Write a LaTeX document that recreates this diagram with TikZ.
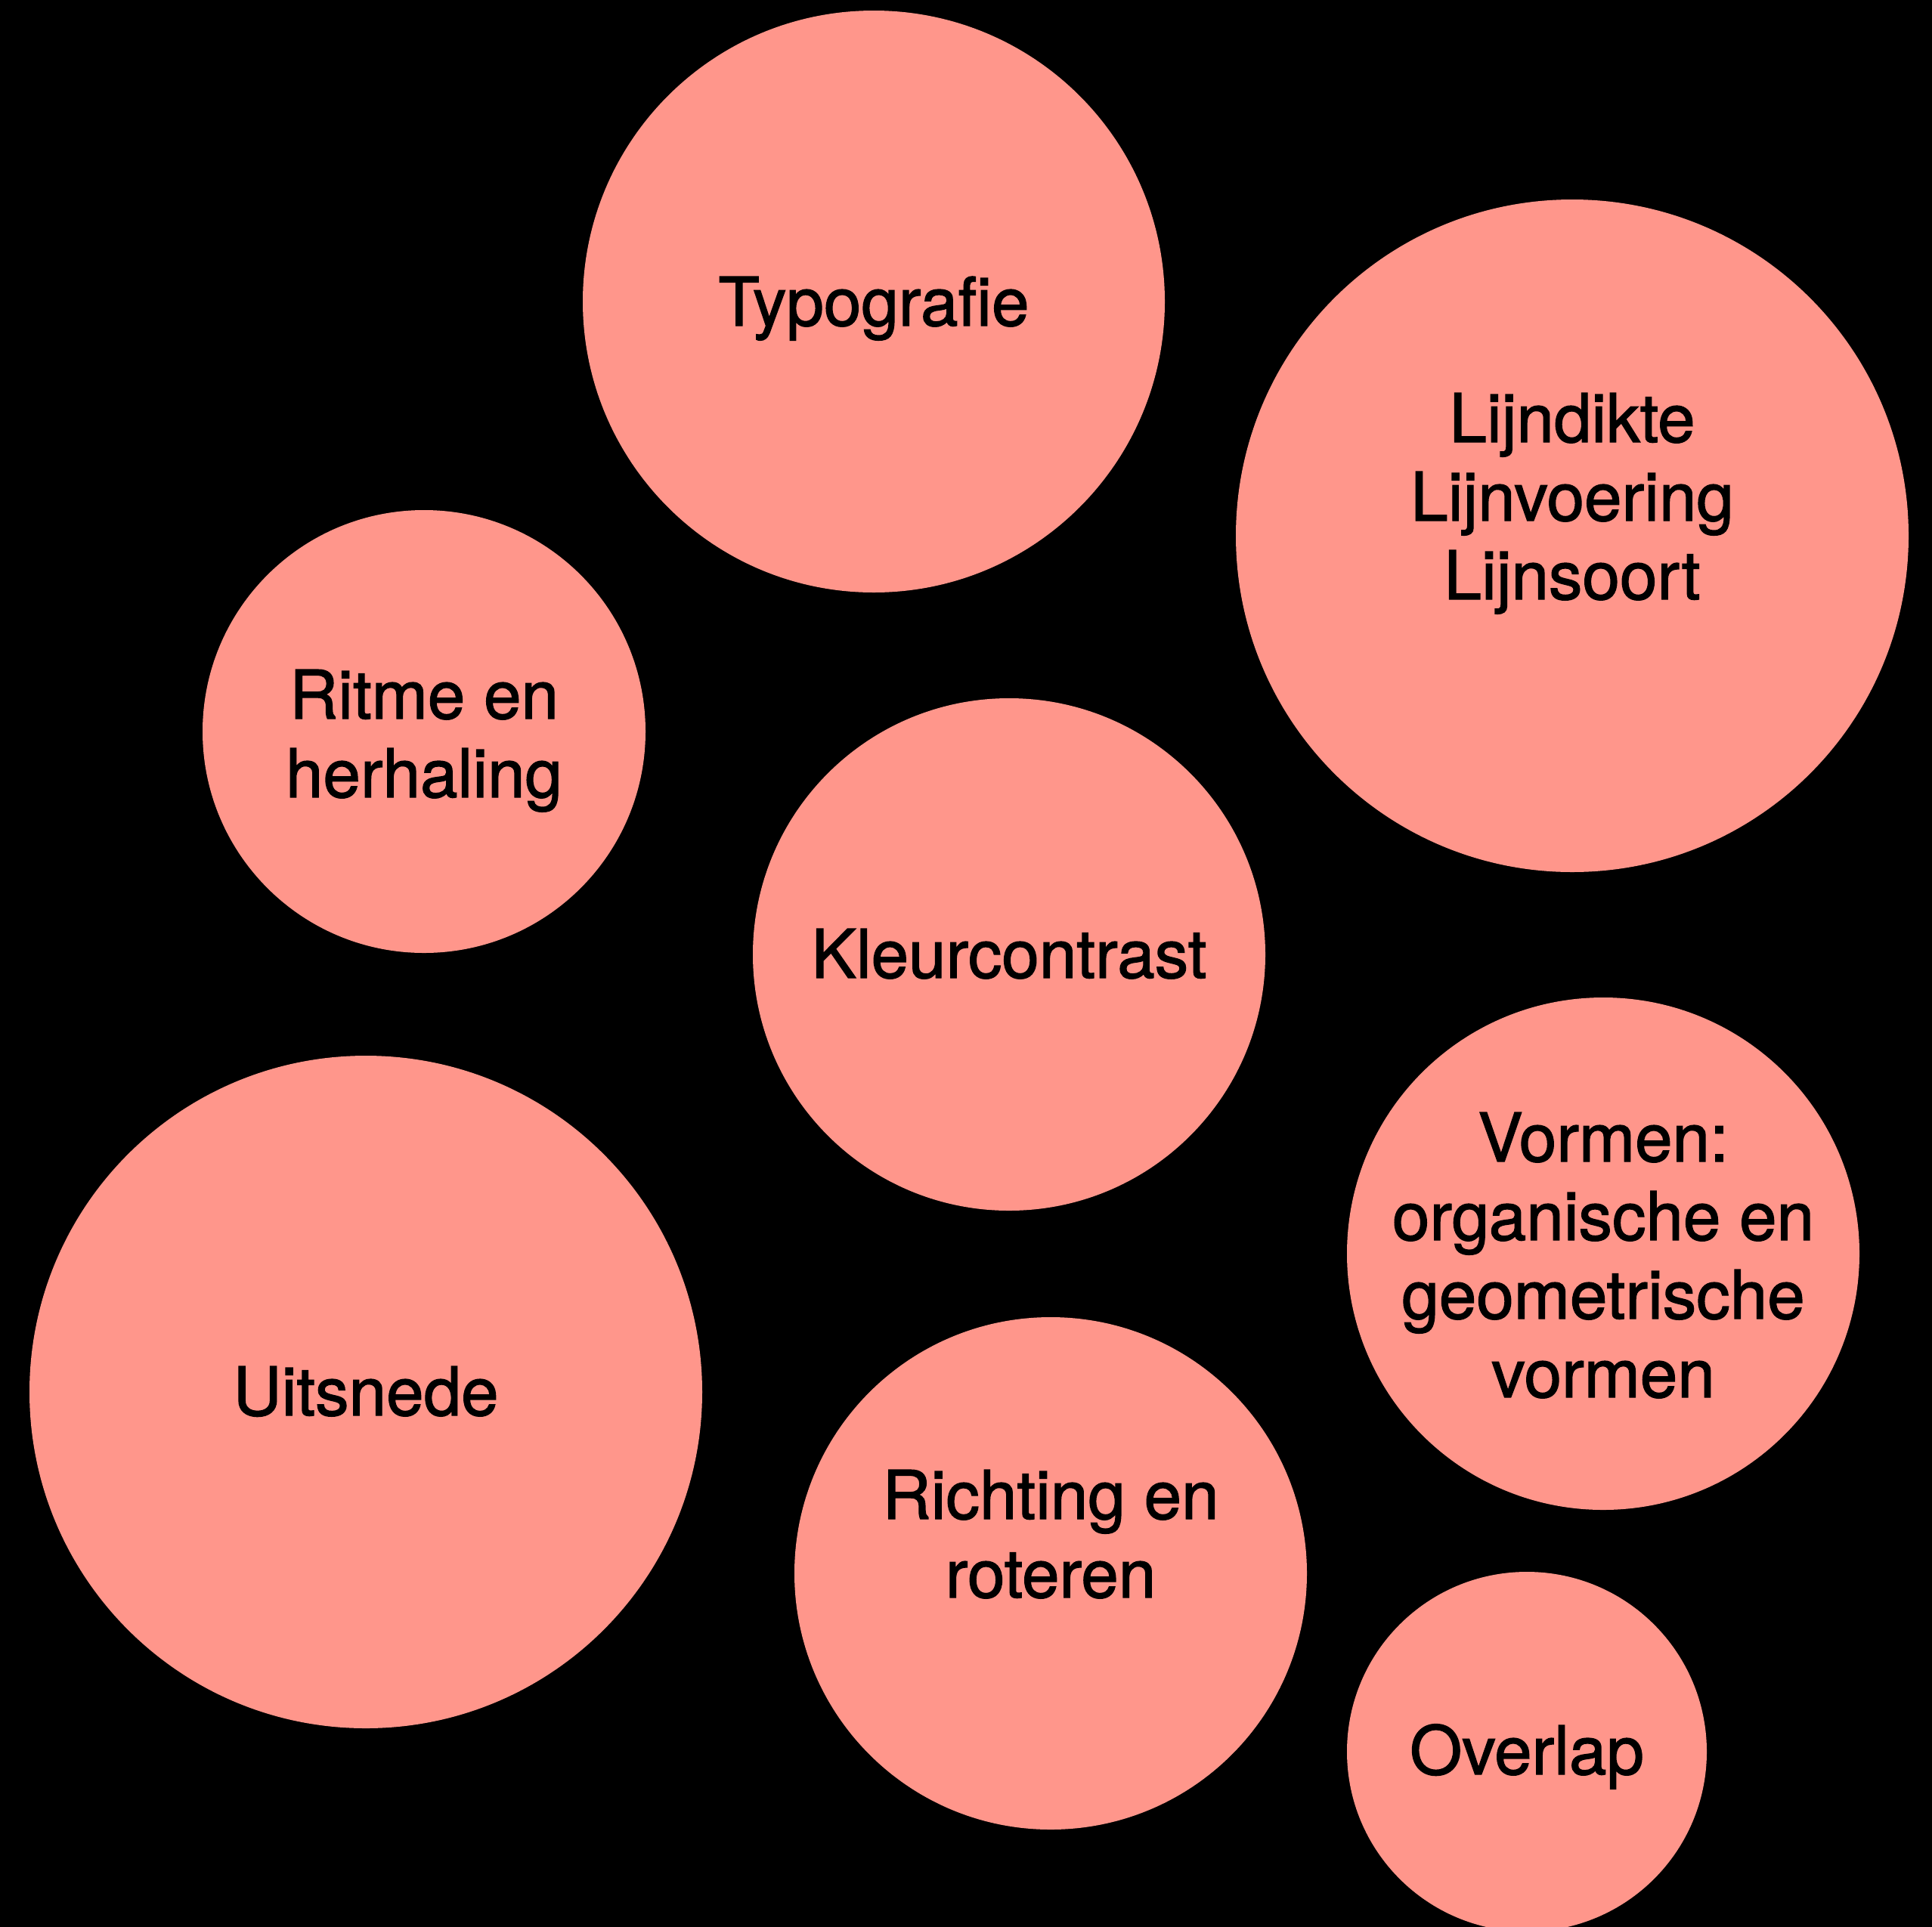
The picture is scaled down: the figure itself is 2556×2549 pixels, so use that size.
\documentclass[tikz,border=0pt]{standalone}
\usepackage{fontspec}
\setmainfont{TeX Gyre Heros}[FakeBold=1.5]
\definecolor{bubble}{RGB}{255,150,139}
\begin{document}
\begin{tikzpicture}[x=1pt,y=-1pt,
  bub/.style={circle,fill=bubble,draw=none,inner sep=0pt},
  lbl/.style={align=center,inner sep=0pt,text height=62pt,text depth=0pt,
    font=\fontsize{89}{104}\selectfont,text=black}]
\useasboundingbox (0,0) rectangle (2556,2549);
\fill[black] (-20,-20) rectangle (2576,2569);
\node[bub,minimum size=770pt] (typ) at (1156,399) {};
\node[bub,minimum size=890pt] (lijn) at (2080,709) {};
\node[bub,minimum size=586pt] (rit) at (561,968) {};
\node[bub,minimum size=678pt] (kleur) at (1335,1263) {};
\node[bub,minimum size=890pt] (uit) at (484,1842) {};
\node[bub,minimum size=678pt] (vorm) at (2121,1659) {};
\node[bub,minimum size=678pt] (richt) at (1390,2082) {};
\node[bub,minimum size=476pt] (over) at (2020,2318) {};
\node[lbl] (ttyp) at (1156,400) {Typografie};
\node[lbl] (tlijn) at (2080,762) {Lijndikte\\Lijnvoering\\Lijnsoort};
\node[lbl] (trit) at (561,1024) {Ritme en\\herhaling};
\node[lbl] (tkleur) at (1335,1263) {Kleurcontrast};
\node[lbl] (tuit) at (484,1842) {Uitsnede};
\node[lbl] (tvorm) at (2121,1818) {Vormen:\\organische en\\geometrische\\vormen};
\node[lbl] (trich) at (1390,2083) {Richting en\\roteren};
\node[lbl] (tover) at (2020,2317) {Overlap};
\end{tikzpicture}
\end{document}
